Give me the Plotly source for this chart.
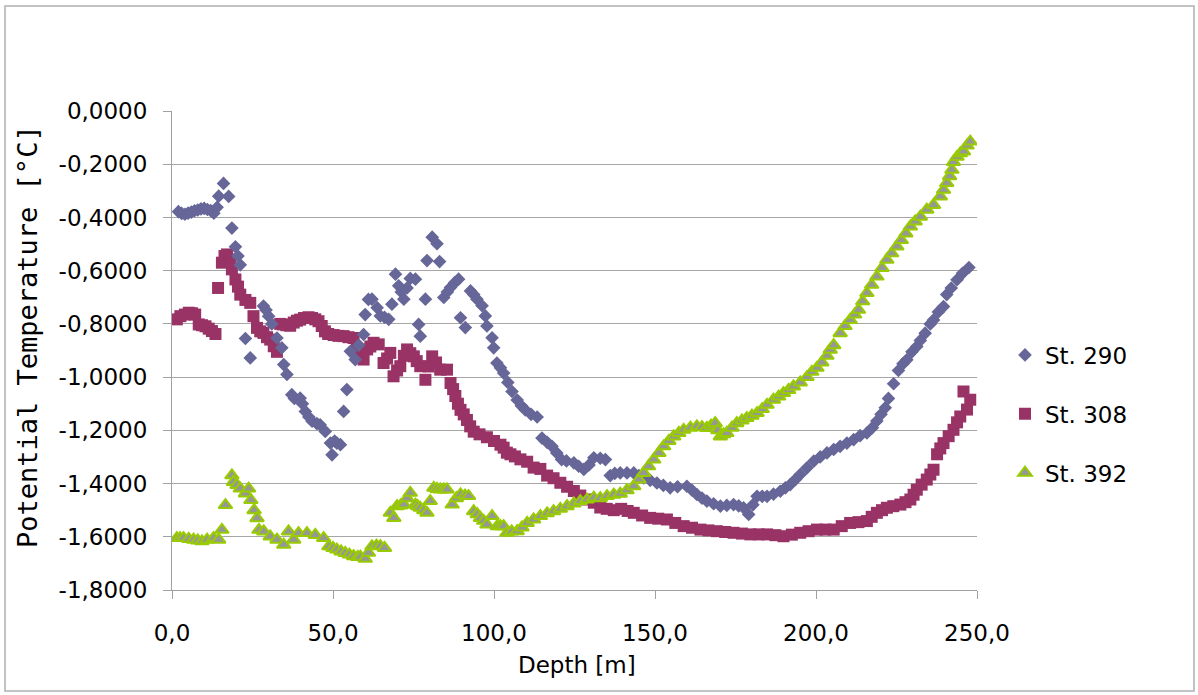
import plotly.graph_objects as go

# Potential temperature profiles at three stations (depth in m, temperature in °C)
depth_290 = [2, 3, 4, 5, 6, 7, 8, 9, 10, 11, 12, 13, 14, 14.5, 16, 17.6, 18.6, 19.7, 20.5, 21.2,
             22.8, 24.3, 28.4, 29.2, 30, 31, 32.6, 34.1, 34.7, 35.7, 37.2, 38, 39.8, 40.5, 41.4,
             42.5, 43.5, 45, 46, 47.6, 49.2, 49.7, 50.5, 51.2, 52.3, 53.3, 54.3, 55.4, 56.9, 58,
             59.5, 60, 61, 62.1, 63.7, 64.7, 66, 67.3, 68.3, 69.4, 70.4, 71.2, 72, 73, 74, 75.6,
             76.6, 77.1, 78.7, 79.2, 80.8, 82.3, 83.1, 84.4, 85.5, 86.5, 87.8, 89, 89.6, 91.1,
             92.7, 93.7, 94.7, 96.3, 97.3, 97.8, 99.4, 99.9, 100.9, 102, 103, 104.3, 105.6, 107.2,
             108.5, 109.7, 111.5, 113.4, 114.9, 116.5, 118, 119.5, 121, 122.5, 124.8, 126.3, 127.9,
             129.5, 131, 133, 134.6, 136.1, 137.5, 139.2, 141.3, 143.4, 145, 146.5, 148.5, 150.6,
             152.6, 154.7, 157, 159.9, 161.5, 163, 164.6, 166.1, 168.2, 170.3, 172.3, 174.4, 176,
             177.5, 179.1, 180.4, 181.7, 183.3, 184.8, 186.8, 188.9, 190.5, 192, 193.6, 195.1,
             197.2, 199.3, 201.3, 203.4, 205.5, 207.5, 209.6, 211.7, 213.7, 215.8, 217.5, 218.9,
             220.2, 221.5, 222.5, 224.1, 225.6, 227, 228.2, 229.8, 231.3, 232.4, 233.9, 235.5,
             236.5, 238, 239.6, 240.6, 242, 243.8, 245.5, 247.5]
temp_290 = [-0.378, -0.385, -0.388, -0.384, -0.380, -0.375, -0.372, -0.368, -0.366, -0.370, -0.374,
            -0.384, -0.362, -0.320, -0.272, -0.321, -0.440, -0.510, -0.545, -0.578, -0.855, -0.928,
            -0.733, -0.748, -0.771, -0.800, -0.853, -0.890, -0.953, -0.990, -1.066, -1.080, -1.079,
            -1.100, -1.129, -1.150, -1.166, -1.175, -1.179, -1.204, -1.248, -1.292, -1.240, -1.248,
            -1.254, -1.129, -1.047, -0.903, -0.934, -0.880, -0.840, -0.765, -0.708, -0.707, -0.739,
            -0.770, -0.775, -0.783, -0.726, -0.613, -0.657, -0.680, -0.707, -0.665, -0.629, -0.632,
            -0.802, -0.846, -0.707, -0.562, -0.474, -0.499, -0.566, -0.701, -0.680, -0.663, -0.645,
            -0.632, -0.777, -0.814, -0.676, -0.690, -0.707, -0.732, -0.770, -0.808, -0.852, -0.890,
            -0.947, -0.965, -0.985, -1.020, -1.054, -1.086, -1.108, -1.123, -1.140, -1.150, -1.229,
            -1.245, -1.260, -1.285, -1.310, -1.315, -1.322, -1.335, -1.347, -1.330, -1.303, -1.305,
            -1.310, -1.370, -1.362, -1.360, -1.360, -1.360, -1.370, -1.379, -1.388, -1.398, -1.407,
            -1.416, -1.412, -1.410, -1.425, -1.441, -1.455, -1.466, -1.476, -1.485, -1.482, -1.479,
            -1.484, -1.491, -1.516, -1.480, -1.448, -1.448, -1.448, -1.440, -1.429, -1.416, -1.404,
            -1.385, -1.366, -1.341, -1.316, -1.300, -1.285, -1.272, -1.260, -1.248, -1.235, -1.220,
            -1.210, -1.190, -1.165, -1.140, -1.115, -1.080, -1.025, -0.975, -0.950, -0.935, -0.905,
            -0.885, -0.862, -0.835, -0.800, -0.785, -0.755, -0.735, -0.690, -0.665, -0.634, -0.610,
            -0.588]

depth_308 = [1.5, 2.6, 4, 5.2, 6.2, 7.2, 8.3, 9.3, 10.4, 11.4, 12.4, 13.5, 14.3, 15.5, 16.3, 17.1,
             18.1, 18.6, 19.7, 20.5, 21.2, 22.8, 24.3, 25.3, 26.4, 27.4, 28.4, 29.5, 30.5, 31.6,
             32.6, 33.6, 34.5, 35.5, 36.7, 37.8, 38.8, 39.8, 41, 42.4, 43.5, 44.5, 45.5, 46.5, 47.5,
             48.5, 50.2, 51.7, 53.3, 54.8, 56.4, 57.4, 58.5, 59.5, 60.6, 61.6, 62.6, 64.2, 65.7,
             66.8, 67.8, 68.8, 69.9, 70.9, 72, 73, 74, 75.1, 76, 77.1, 78.7, 79.7, 80.8, 82, 83.3,
             85.4, 86.5, 87.3, 88, 88.8, 89.6, 90.6, 91.6, 92.6, 93.7, 95.5, 97.8, 100, 102, 103,
             104, 105.1, 106.5, 108.2, 110.3, 112.3, 114.4, 116.5, 118.5, 120.6, 122.7, 124.8,
             126.8, 128.9, 131, 133, 135, 137.2, 139.5, 141.5, 143.4, 146, 148.5, 151, 153.7, 156.3,
             158.9, 161.5, 164.1, 166.6, 169.2, 171.8, 174.4, 177, 179.6, 182.2, 184.8, 187.4,
             189.9, 192.5, 195.1, 197.7, 200.3, 202.9, 205.5, 208, 210.6, 213.2, 215.8, 217.3,
             218.9, 220.5, 222, 224, 226.2, 227.8, 229.3, 230.3, 231.3, 232.8, 234.4, 235.5, 236.5,
             237.6, 238.6, 239.6, 241.2, 242.7, 243.8, 244.8, 245.8, 246.9, 247.9]
temp_308 = [-0.783, -0.771, -0.765, -0.758, -0.760, -0.765, -0.802, -0.805, -0.809, -0.818, -0.827,
            -0.838, -0.665, -0.570, -0.545, -0.539, -0.558, -0.595, -0.633, -0.660, -0.690, -0.710,
            -0.721, -0.771, -0.815, -0.828, -0.834, -0.850, -0.859, -0.884, -0.905, -0.800, -0.802,
            -0.805, -0.807, -0.795, -0.788, -0.784, -0.778, -0.775, -0.778, -0.783, -0.790, -0.808,
            -0.828, -0.838, -0.842, -0.845, -0.846, -0.850, -0.853, -0.897, -0.920, -0.934, -0.896,
            -0.885, -0.871, -0.877, -0.947, -0.930, -0.909, -0.997, -0.975, -0.959, -0.920, -0.896,
            -0.910, -0.922, -0.940, -0.959, -1.010, -0.960, -0.922, -0.945, -0.972, -0.972, -1.022,
            -1.045, -1.071, -1.100, -1.123, -1.140, -1.161, -1.185, -1.205, -1.215, -1.226, -1.240,
            -1.254, -1.265, -1.284, -1.290, -1.298, -1.309, -1.318, -1.340, -1.345, -1.370, -1.380,
            -1.397, -1.412, -1.428, -1.445, -1.460, -1.472, -1.490, -1.495, -1.500, -1.495, -1.503,
            -1.510, -1.520, -1.529, -1.532, -1.535, -1.548, -1.560, -1.566, -1.573, -1.576, -1.579,
            -1.582, -1.585, -1.588, -1.591, -1.591, -1.591, -1.594, -1.598, -1.592, -1.585, -1.579,
            -1.573, -1.573, -1.573, -1.560, -1.548, -1.545, -1.541, -1.525, -1.510, -1.500, -1.491,
            -1.485, -1.479, -1.470, -1.460, -1.442, -1.423, -1.404, -1.385, -1.366, -1.348, -1.290,
            -1.268, -1.248, -1.222, -1.198, -1.170, -1.148, -1.054, -1.122, -1.085]

depth_392 = [1.5, 2.5, 3.6, 5.2, 6.7, 8, 9.3, 10.9, 12.9, 14.5, 15.5, 16.6, 18.6, 19.1, 20.2, 21.2,
             22.8, 23.8, 24.5, 25.5, 26.4, 27, 28.5, 30.5, 32.6, 34.7, 36.2, 37.8, 39.3, 41.9, 44.5,
             47.1, 48.7, 50, 51.2, 52.5, 53.8, 55.1, 56.4, 57.7, 58.5, 60, 61, 62.1, 63.5, 64.7, 66,
             67.8, 68.9, 69.9, 71, 72, 73, 74, 75.6, 76.3, 77.1, 78.2, 79.2, 80.2, 81.3, 82.3, 83.3,
             84.4, 85.4, 87, 88.3, 89.6, 91, 92.1, 93.7, 94.8, 95.8, 96.8, 97.8, 99.4, 101, 102, 103,
             104, 105.5, 107.2, 108.7, 110.3, 112.3, 114.4, 116.5, 118.5, 120.6, 122.7, 124.8, 126.8,
             128.9, 131, 133, 135.1, 137.2, 139.2, 141.3, 143.4, 145, 146.5, 148, 149.6, 151.2, 152.7,
             154.3, 155.8, 157.4, 158.9, 161, 163, 164.6, 166.1, 167.4, 168.7, 169.5, 170.3, 171.3,
             172.3, 173.9, 175.4, 177, 178.5, 180.1, 181.7, 183.3, 184.8, 186.8, 188.4, 189.9, 191.5,
             193, 195.1, 197.2, 198.7, 200.3, 201.8, 203.4, 204.4, 205.5, 207.5, 209, 210.6, 212,
             213.2, 214.5, 215.8, 217.3, 218.9, 220.5, 222, 223.5, 225.1, 226.5, 227.9, 229.3, 230.8,
             232.4, 234.4, 236.5, 238.6, 239.6, 240.6, 241.5, 242.2, 242.7, 243.8, 244.8, 245.8,
             246.9, 247.9]
temp_392 = [-1.605, -1.605, -1.605, -1.608, -1.611, -1.614, -1.617, -1.611, -1.605, -1.611, -1.574,
            -1.481, -1.369, -1.394, -1.405, -1.419, -1.437, -1.419, -1.462, -1.500, -1.530, -1.574,
            -1.580, -1.599, -1.611, -1.630, -1.580, -1.611, -1.586, -1.586, -1.593, -1.605, -1.636,
            -1.642, -1.648, -1.655, -1.661, -1.667, -1.673, -1.676, -1.675, -1.683, -1.660, -1.636,
            -1.633, -1.635, -1.642, -1.510, -1.529, -1.485, -1.482, -1.479, -1.455, -1.435, -1.479,
            -1.485, -1.491, -1.500, -1.510, -1.466, -1.416, -1.420, -1.422, -1.422, -1.422, -1.479,
            -1.455, -1.441, -1.445, -1.447, -1.504, -1.515, -1.529, -1.540, -1.554, -1.522, -1.560,
            -1.560, -1.560, -1.585, -1.580, -1.579, -1.565, -1.548, -1.535, -1.522, -1.512, -1.504,
            -1.495, -1.485, -1.475, -1.466, -1.460, -1.453, -1.455, -1.447, -1.442, -1.438, -1.425,
            -1.410, -1.385, -1.360, -1.335, -1.310, -1.285, -1.260, -1.240, -1.223, -1.210, -1.198,
            -1.190, -1.185, -1.188, -1.191, -1.182, -1.173, -1.200, -1.223, -1.215, -1.210, -1.190,
            -1.173, -1.163, -1.154, -1.145, -1.135, -1.120, -1.104, -1.085, -1.073, -1.060, -1.048,
            -1.035, -1.020, -1.000, -0.980, -0.965, -0.945, -0.920, -0.897, -0.880, -0.835, -0.808,
            -0.785, -0.765, -0.747, -0.715, -0.684, -0.653, -0.622, -0.590, -0.559, -0.535, -0.509,
            -0.485, -0.460, -0.434, -0.415, -0.397, -0.371, -0.353, -0.321, -0.296, -0.271, -0.245,
            -0.221, -0.192, -0.172, -0.159, -0.152, -0.130, -0.115]

x_ticks = [0, 50, 100, 150, 200, 250]
x_labels = ["0,0", "50,0", "100,0", "150,0", "200,0", "250,0"]
y_ticks = [0, -0.2, -0.4, -0.6, -0.8, -1.0, -1.2, -1.4, -1.6, -1.8]
y_labels = ["0,0000", "-0,2000", "-0,4000", "-0,6000", "-0,8000", "-1,0000",
            "-1,2000", "-1,4000", "-1,6000", "-1,8000"]

W, H = 1198, 695
L, R, T, B = 172, 221, 111, 105

fig = go.Figure()
fig.add_trace(go.Scatter(
    x=depth_308, y=temp_308, mode="markers", name="St. 308",
    legendrank=2, legendgroup="b",
    marker=dict(symbol="square", size=12, color="#993366", line=dict(width=0)),
))
fig.add_trace(go.Scatter(
    x=depth_290, y=temp_290, mode="markers", name="St. 290",
    legendrank=1, legendgroup="a",
    marker=dict(symbol="diamond", size=10.5, color="#666699", line=dict(width=0)),
))
fig.add_trace(go.Scatter(
    x=depth_392, y=temp_392, mode="markers", name="St. 392",
    legendrank=3, legendgroup="c",
    marker=dict(symbol="triangle-up", size=12, color="#969696",
                line=dict(width=2, color="#99CC00")),
))

pw = W - L - R
ph = H - T - B


def px_x(p):
    return (p - L) / pw


def px_y(p):
    return (H - B - p) / ph


fig.update_layout(
    width=W, height=H,
    margin=dict(l=L, r=R, t=T, b=B, pad=0),
    paper_bgcolor="white", plot_bgcolor="white",
    font=dict(family="DejaVu Sans", color="black", size=22),
    showlegend=True,
    legend=dict(
        x=px_x(1005), xanchor="left", y=px_y(414), yanchor="middle",
        font=dict(size=23, family="DejaVu Sans"),
        tracegroupgap=26, traceorder="grouped",
        bgcolor="rgba(0,0,0,0)", itemwidth=30,
    ),
    xaxis=dict(
        range=[0, 250], tickvals=x_ticks, ticktext=x_labels,
        showgrid=False, zeroline=False,
        showline=True, linecolor="#a0a0a0", linewidth=1,
        ticks="outside", ticklen=8, tickcolor="#a0a0a0", tickwidth=1,
        tickfont=dict(size=23), ticklabelstandoff=14,
    ),
    yaxis=dict(
        range=[-1.8, 0], tickvals=y_ticks, ticktext=y_labels,
        showgrid=True, gridcolor="#a6a6a6", gridwidth=1, zeroline=False,
        showline=True, linecolor="#a0a0a0", linewidth=1,
        ticks="outside", ticklen=8, tickcolor="#a0a0a0", tickwidth=1,
        tickfont=dict(size=23), ticklabelstandoff=11,
    ),
    annotations=[
        dict(text="Depth [m]", x=px_x(577), y=px_y(665), xref="paper", yref="paper",
             showarrow=False, font=dict(size=23, family="DejaVu Sans"),
             xanchor="center", yanchor="middle"),
        dict(text="Potential Temperature [°C]", x=px_x(27), y=px_y(337),
             xref="paper", yref="paper", showarrow=False, textangle=-90,
             font=dict(size=27, family="DejaVu Sans Mono"),
             xanchor="center", yanchor="middle"),
    ],
    shapes=[
        dict(type="rect", xref="paper", yref="paper",
             x0=px_x(5), x1=px_x(1194), y0=px_y(691), y1=px_y(6),
             line=dict(color="#b0b0b0", width=1.5), fillcolor="rgba(0,0,0,0)",
             layer="below"),
    ],
)

fig.write_html("out.html")
